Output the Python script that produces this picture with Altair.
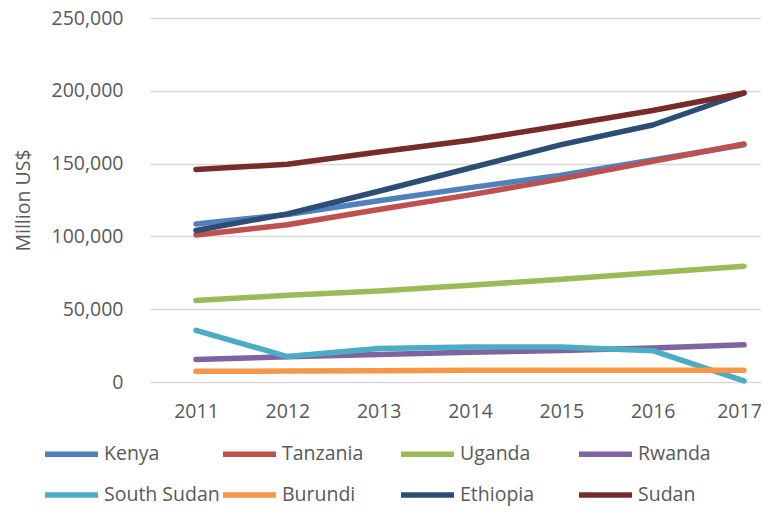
import altair as alt
import pandas as pd

years = [2011, 2012, 2013, 2014, 2015, 2016, 2017]
countries = ["Kenya", "Tanzania", "Uganda", "Rwanda",
             "South Sudan", "Burundi", "Ethiopia", "Sudan"]
colors = ["#4F81BD", "#C0504D", "#9BBB59", "#8064A2",
          "#4BACC6", "#F79646", "#2C4D75", "#772C2A"]

kenya = [108500, 115000, 124500, 133500, 142000, 152500, 163000]
tanzania = [101000, 108000, 118500, 128500, 139500, 151500, 163500]
uganda = [56000, 59500, 62500, 66500, 70500, 75000, 79500]
rwanda = [15500, 17300, 18900, 20400, 21600, 23300, 25500]
south_sudan = [35500, 17500, 23000, 24000, 24000, 21500, 700]
burundi = [7300, 7500, 7800, 8000, 8000, 8000, 8000]
ethiopia = [104000, 115500, 131000, 147000, 163000, 176500, 198500]
sudan = [146000, 149500, 158000, 166000, 176000, 186500, 198500]

series = [kenya, tanzania, uganda, rwanda, south_sudan, burundi, ethiopia, sudan]

rows = []
for name, vals in zip(countries, series):
    for y, v in zip(years, vals):
        rows.append({"country": name, "year": y, "value": v})
df = pd.DataFrame(rows)

FONT = "Open Sans"
GREY = "#595959"

chart = alt.Chart(df).mark_line(strokeWidth=5.5, strokeCap="round", strokeJoin="round").encode(
    x=alt.X("year:Q",
            scale=alt.Scale(domain=[2010.4963, 2017.186], nice=False, zero=False),
            axis=alt.Axis(values=years, format="d", title=None, grid=False, domain=False,
                          ticks=False, labelPadding=20, labelFontSize=19.5,
                          labelOffset={"condition": {"test": "datum.value == 2017", "value": -5},
                                       "value": 0},
                          labelFont=FONT, labelColor=GREY)),
    y=alt.Y("value:Q",
            scale=alt.Scale(domain=[0, 250000], nice=False),
            axis=alt.Axis(values=[0, 50000, 100000, 150000, 200000, 250000], format=",d",
                          title="Million US$", titleFontSize=19.5, titleFont=FONT,
                          titleColor=GREY, titleFontWeight="normal", titlePadding=18,
                          domain=False, ticks=False, labelPadding=27,
                          labelFontSize=19.5, labelFont=FONT, labelColor=GREY,
                          gridColor="#D9D9D9", gridWidth=1.5)),
    color=alt.Color("country:N",
                    scale=alt.Scale(domain=countries, range=colors),
                    legend=alt.Legend(title=None, orient="none", direction="horizontal",
                                      legendX=-108, legendY=406.5,
                                      columns=4, gridAlign="all", columnPadding=-8,
                                      rowPadding=-14, symbolType="stroke",
                                      symbolSize=2809, symbolStrokeWidth=5.5,
                                      labelFontSize=19.5, labelFont=FONT,
                                      labelColor=GREY, labelOffset=3)),
    order=alt.Order("year:Q"),
).properties(
    width=611, height=364,
    autosize=alt.AutoSizeParams(type="none"),
    padding={"left": 142, "top": 10, "right": 0, "bottom": 125},
).configure_view(stroke=None)

chart.save("out.html", embed_options={"renderer": "svg", "actions": False})
